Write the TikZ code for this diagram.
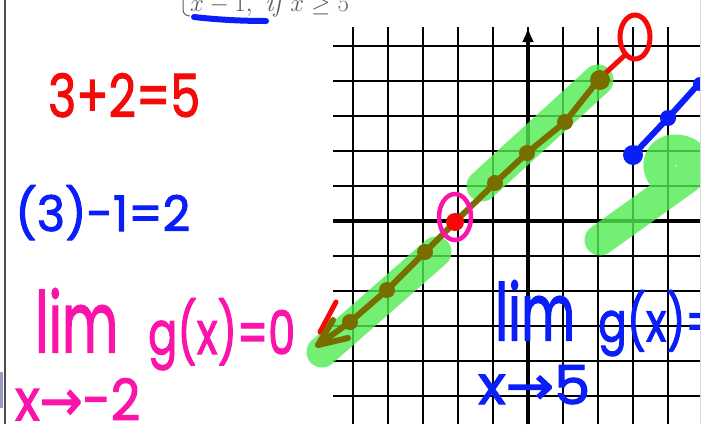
\documentclass[tikz,border=0pt]{standalone}
\usepackage{fontspec}
\usetikzlibrary{arrows.meta}
\newfontfamily\hand{Poppins}[FakeBold=2]
\newfontfamily\sym{DejaVu Sans}[FakeBold=2]
\definecolor{mred}{RGB}{245,10,10}
\definecolor{mblue}{RGB}{10,30,250}
\definecolor{mpink}{RGB}{250,20,170}
\definecolor{mgreen}{RGB}{80,235,80}
\definecolor{olivebrown}{RGB}{120,110,0}
\definecolor{printgrey}{RGB}{95,95,95}
\newcommand{\fitbox}[3]{\resizebox*{#1pt}{#2pt}{#3}}
\begin{document}
\begin{tikzpicture}[x=1pt,y=-1pt,
  gridline/.style={black,line width=1.6pt},
  axisline/.style={black,line width=4pt},
  hl/.style={mgreen,opacity=0.8,line width=31pt,line cap=round,line join=round},
  pen/.style={line width=5pt,line cap=round,line join=round},
  dot/.style={fill=olivebrown},
  txt/.style={inner sep=0pt,anchor=north west}]
\useasboundingbox (0,0) rectangle (713,424);
\fill[white] (0,0) rectangle (713,424);
% left border
\draw[black!70,line width=1.5pt] (5,0) -- (5,424);
\fill[black!60!blue!40] (0,372) rectangle (3,408);
% grid
\foreach \i in {0,...,9} \draw[gridline] (353+35*\i,27) -- (353+35*\i,424);
\foreach \j in {-5,...,-1,1,2,3,4,5} \draw[gridline] (333,221+35*\j) -- (700,221+35*\j);
\draw[axisline] (333,221) -- (700,221);
\draw[axisline,-{Latex[length=15pt,width=12pt]}] (528,424) -- (528,27);
% printed text at top (cut by the top edge, as in the screenshot)
\node[anchor=base west,inner sep=0pt,text=printgrey] (top) at (190,11) {\fontsize{28}{32}\selectfont $x-1,\ \mathit{if}\ x\geq 5$};
\draw[printgrey,line width=1pt] (183,0) -- (183,10) to[out=-90,in=180] (190,16);
\draw[mblue,line width=6pt,line cap=round] (194,17) .. controls (220,20) and (245,21) .. (266,21);
% handwritten texts
\node[txt,text=mred] (t1) at (48,73) {\fitbox{152}{44}{\hand 3+2=5}};
\node[txt,text=mblue] (t2) at (15,185) {\fitbox{175}{55}{\hand (3)-1=2}};
\node[txt,text=mpink] (t3) at (35,288) {\fitbox{83}{64}{\hand lim}};
\node[txt,text=mpink] (t4) at (148,298) {\fitbox{147}{72}{\hand g(x)=0}};
\node[txt,text=mpink] (t5) at (15,378) {\fitbox{125}{42}{\hand x{\sym→}-2}};
\node[txt,text=mblue] (t6) at (495,280) {\fitbox{80}{60}{\hand lim}};
\node[txt,text=mblue] (t7) at (598,290) {\fitbox{118}{66}{\hand g(x)=}};
\node[txt,text=mblue] (t8) at (478,365) {\fitbox{112}{39}{\hand x{\sym→}5}};
% green highlights
\draw[hl] (322,352) -- (436,252);
\draw[hl] (482,186) -- (598,80);
\draw[hl] (600,240) -- (684,180) .. controls (702,168) and (695,150) .. (675,150) .. controls (660,150) and (655,165) .. (662,175);
% red strokes
\draw[pen,mred] (336,302) -- (320,332);
\draw[pen,mred] (598,80) -- (624,56);
\draw[mred,line width=5pt] (635,37) ellipse [x radius=15, y radius=22];
% main line
\draw[pen,olivebrown,line width=6pt] (318,345) -- (350,322) -- (387,290) -- (425,252) -- (455,222) -- (495,183) -- (527,153) -- (565,122) -- (600,78);
\draw[pen,olivebrown,line width=6pt] (333,320) -- (318,345) -- (348,338);
\foreach \p in {(350,322),(387,290),(425,252),(495,183),(527,153),(565,122)} \fill[dot] \p circle [radius=8];
\fill[dot] (600,80) circle [radius=10];
\fill[mred] (455,222) circle [radius=9];
\draw[mpink,line width=4.5pt] (455,217) ellipse [x radius=16, y radius=23];
% blue line
\draw[pen,mblue,line width=6pt] (633,155) -- (668,118) -- (713,68);
\fill[mblue] (633,155) circle [radius=10];
\fill[mblue] (668,118) circle [radius=8];
\fill[mblue] (700,84) circle [radius=7];
% right edge
\fill[white] (700.5,0) rectangle (713,424);
\draw[black!15,line width=0.6pt] (700.5,0) -- (700.5,424);
\end{tikzpicture}
\end{document}
